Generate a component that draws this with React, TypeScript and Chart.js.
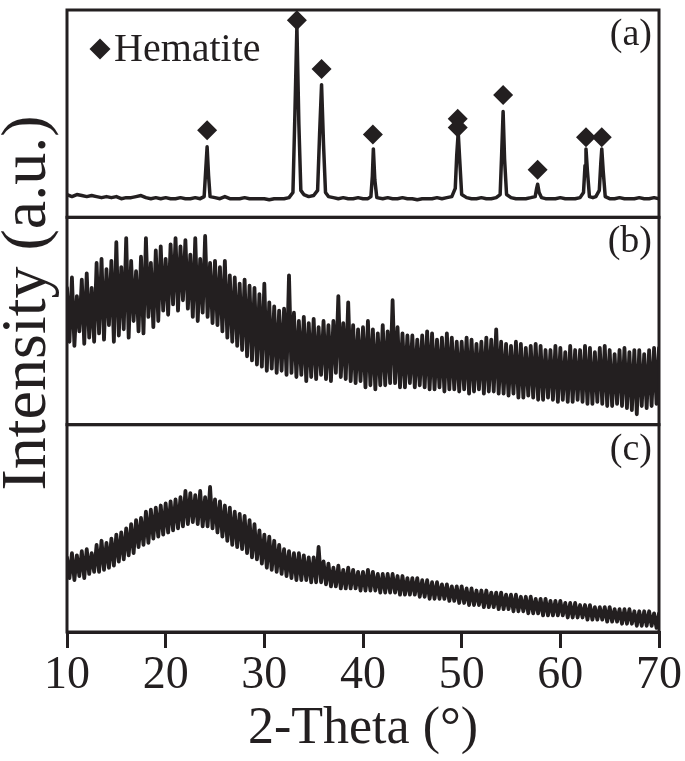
import React, { useEffect, useRef } from 'react';
import { Chart, registerables } from 'chart.js';

Chart.register(...registerables);

const X_MIN = 10;
const X_MAX = 70;
const X_TICK_STEP = 10;
const X_TITLE = '2-Theta (°)';
const Y_TITLE = 'Intensity (a.u.)';
const PANEL_LABELS = ['(a)', '(b)', '(c)'];
const LEGEND_LABEL = 'Hematite';
const INK = '#231f20';
const FONT = '"Liberation Serif", "Times New Roman", serif';

// Panel (a): [2-theta, intensity]
const patternA: [number, number][] = [
  [10, 11], [10.5, 10], [11, 11], [11.5, 10.5], [12, 10], [12.5, 10.5], [13, 10], [13.5, 9.5],
  [14, 10], [14.5, 9.5], [15, 10], [15.5, 9], [16, 9.5], [16.5, 9.5], [17, 10], [17.5, 10.5],
  [18, 9.5], [18.5, 9], [19, 9.5], [19.5, 9], [20, 9.5], [20.5, 9], [21, 9], [21.5, 9.5],
  [22, 9], [22.5, 9], [23, 9.5], [23.5, 9], [23.9, 10], [24.05, 22], [24.2, 34], [24.35, 20],
  [24.5, 10], [25, 9.5], [25.5, 9], [26, 10], [26.5, 9], [27, 9], [27.5, 9], [28, 9.5],
  [28.5, 9], [29, 9], [29.5, 9], [30, 9], [30.5, 8.5], [31, 9], [31.5, 9], [32, 9],
  [32.5, 9.5], [32.9, 12], [33.1, 50], [33.3, 92], [33.5, 45], [33.7, 13], [34, 11], [34.5, 10],
  [35, 10.5], [35.4, 13], [35.6, 40], [35.8, 64], [36.0, 35], [36.2, 12], [36.5, 10], [37, 9.5],
  [37.5, 9], [38, 9.5], [38.5, 9], [39, 9], [39.5, 9.5], [40, 9], [40.5, 9], [40.8, 10],
  [40.95, 20], [41.05, 33], [41.2, 18], [41.4, 9.5], [42, 9], [42.5, 9.5], [43, 9], [43.5, 9],
  [44, 9.5], [44.5, 9], [45, 9], [45.5, 8.5], [46, 9], [46.5, 9], [47, 9], [47.5, 9.5],
  [48, 9], [48.5, 9.5], [49, 10], [49.35, 14], [49.5, 30], [49.65, 41], [49.8, 28], [50, 11],
  [50.5, 9.5], [51, 9], [51.5, 9], [52, 9.5], [52.5, 9], [53, 9], [53.5, 9.5], [53.9, 11],
  [54.05, 30], [54.2, 51], [54.35, 28], [54.55, 11], [55, 9.5], [55.5, 9], [56, 9], [56.5, 9],
  [57, 9.5], [57.45, 10], [57.6, 14], [57.7, 16], [57.85, 12], [58.1, 9.5], [58.5, 9], [59, 9],
  [59.5, 9], [60, 9.5], [60.5, 9], [61, 9], [61.5, 9], [62, 9.5], [62.35, 12], [62.5, 25],
  [62.6, 33], [62.75, 22], [62.95, 10], [63.3, 9.5], [63.6, 10], [63.95, 13], [64.1, 26], [64.2, 33],
  [64.35, 22], [64.55, 10], [65, 9], [65.5, 9], [66, 9.5], [66.5, 9], [67, 9], [67.5, 9],
  [68, 9.5], [68.5, 9], [69, 9], [69.5, 9.5], [70, 9],
];

// Hematite peak markers in panel (a): [2-theta, marker height]
const hematiteMarkers: [number, number][] = [
  [24.2, 42], [33.3, 95], [35.8, 71.5], [41.0, 40], [49.6, 47.5], [49.6, 43.3],
  [54.2, 59], [57.7, 23], [62.6, 38.6], [64.2, 38.6],
];

// Panels (b) and (c): intensities sampled every 0.25° from 10° to 70°
const THETA_START = 10;
const THETA_STEP = 0.25;

const intensityB = [
  66, 40, 71, 38, 62, 45, 70, 39, 73, 42, 66, 40, 78, 44, 80, 41,
  75, 48, 79, 40, 88, 43, 76, 46, 90, 42, 79, 50, 74, 45, 81, 44,
  90, 52, 78, 47, 84, 50, 86, 55, 80, 53, 87, 58, 90, 55, 86, 60,
  89, 56, 82, 52, 90, 50, 80, 54, 91, 52, 78, 49, 79, 48, 76, 45,
  79, 42, 72, 40, 71, 38, 68, 36, 70, 33, 67, 31, 66, 29, 63, 28,
  68, 26, 59, 27, 57, 25, 55, 26, 56, 24, 72, 25, 54, 23, 50, 24,
  52, 21, 49, 23, 51, 22, 47, 24, 50, 22, 48, 21, 50, 25, 62, 23,
  49, 22, 59, 21, 48, 20, 46, 21, 47, 18, 50, 19, 46, 17, 44, 19,
  48, 19, 45, 20, 60, 20, 47, 18, 44, 18, 43, 20, 43, 18, 41, 19,
  43, 18, 45, 17, 44, 17, 41, 18, 42, 16, 44, 17, 42, 17, 40, 16,
  40, 17, 42, 15, 41, 16, 39, 17, 40, 15, 42, 16, 41, 16, 46, 15,
  40, 15, 39, 14, 38, 15, 40, 13, 39, 13, 37, 14, 38, 13, 39, 12,
  38, 12, 36, 13, 36, 12, 38, 11, 37, 12, 35, 11, 38, 11, 36, 12,
  36, 11, 38, 10, 37, 10, 35, 11, 37, 10, 38, 9, 36, 9, 34, 10,
  36, 9, 37, 8, 35, 7, 36, 5, 36, 9, 34, 8, 36, 9, 37, 10,
  37,
];

const intensityC = [
  36, 26, 38, 25, 37, 27, 39, 26, 40, 28, 38, 29, 42, 29, 44, 30,
  43, 31, 45, 32, 47, 34, 48, 35, 50, 37, 52, 38, 54, 41, 55, 42,
  58, 43, 59, 45, 60, 46, 61, 47, 62, 48, 63, 49, 64, 50, 65, 51,
  68, 52, 67, 53, 66, 52, 68, 51, 65, 51, 70, 50, 64, 48, 63, 46,
  61, 44, 60, 42, 58, 41, 57, 40, 56, 38, 54, 36, 52, 35, 49, 33,
  47, 31, 46, 30, 44, 29, 42, 28, 40, 27, 39, 26, 38, 25, 38, 25,
  37, 25, 36, 24, 36, 24, 41, 24, 34, 23, 33, 22, 31, 22, 32, 21,
  30, 21, 31, 21, 30, 21, 29, 20, 29, 20, 30, 20, 29, 20, 28, 19,
  28, 19, 28, 19, 28, 19, 27, 18, 27, 18, 26, 18, 26, 18, 26, 17,
  25, 17, 25, 16, 24, 16, 24, 16, 23, 16, 23, 15, 22, 15, 22, 14,
  22, 14, 21, 13, 21, 13, 20, 13, 20, 12, 20, 12, 19, 12, 19, 11,
  19, 11, 18, 11, 18, 10, 18, 10, 17, 10, 17, 9, 17, 9, 16, 9,
  16, 8, 16, 8, 15, 8, 15, 8, 15, 8, 14, 7, 14, 7, 14, 7,
  13, 7, 13, 6, 13, 6, 12, 6, 12, 6, 12, 5, 12, 5, 11, 5,
  11, 4, 11, 4, 11, 4, 10, 3, 10, 3, 10, 3, 10, 3, 9, 2,
  9,
];

const PANEL_IDS = ['yA', 'yB', 'yC'];

const toPoints = (vals: number[]) => vals.map((y, i) => ({ x: THETA_START + i * THETA_STEP, y }));

const decorPlugin = {
  id: 'decor',
  afterDatasetsDraw(chart: any) {
    const { ctx, chartArea } = chart;
    ctx.save();
    ctx.strokeStyle = INK;
    ctx.fillStyle = INK;
    ctx.lineWidth = 3;
    PANEL_IDS.forEach((id, i) => {
      const s = chart.scales[id];
      ctx.strokeRect(chartArea.left, s.top, chartArea.right - chartArea.left, s.bottom - s.top);
      ctx.font = `38px ${FONT}`;
      ctx.textAlign = 'right';
      ctx.textBaseline = 'alphabetic';
      ctx.fillText(PANEL_LABELS[i], chartArea.right - 7, s.top + 35);
    });
    // legend
    const sA = chart.scales.yA;
    const cx = chartArea.left + 33;
    const cy = sA.top + 39;
    const r = 10.5;
    ctx.beginPath();
    ctx.moveTo(cx, cy - r);
    ctx.lineTo(cx + r, cy);
    ctx.lineTo(cx, cy + r);
    ctx.lineTo(cx - r, cy);
    ctx.closePath();
    ctx.fill();
    ctx.font = `40px ${FONT}`;
    ctx.textAlign = 'left';
    ctx.fillText(LEGEND_LABEL, chartArea.left + 47, sA.top + 51);
    // y title
    ctx.translate(45, (chartArea.top + chartArea.bottom) / 2 - 18);
    ctx.rotate(-Math.PI / 2);
    ctx.font = `64px ${FONT}`;
    ctx.textAlign = 'center';
    ctx.textBaseline = 'alphabetic';
    ctx.fillText(Y_TITLE, 0, 0);
    ctx.restore();
  },
};

const hiddenY = (weight: number) => ({
  type: 'linear',
  position: 'left',
  stack: 'panels',
  stackWeight: 1,
  weight,
  min: 0,
  max: 100,
  ticks: { display: false },
  grid: { display: false },
  border: { display: false },
  afterFit: (s: any) => {
    s.width = 0;
  },
});

const lineStyle = (width: number) => ({
  borderColor: INK,
  borderWidth: width,
  borderJoinStyle: 'round',
  borderCapStyle: 'round',
  pointRadius: 0,
  tension: 0,
});

export default function App() {
  const ref = useRef<HTMLCanvasElement | null>(null);
  useEffect(() => {
    if (!ref.current) return;
    const chart = new Chart(ref.current, {
      type: 'line',
      data: {
        datasets: [
          {
            data: patternA.map(([x, y]) => ({ x, y })),
            yAxisID: 'yA',
            ...lineStyle(3.5),
          },
          {
            data: hematiteMarkers.map(([x, y]) => ({ x, y })),
            yAxisID: 'yA',
            showLine: false,
            pointStyle: 'rectRot',
            pointRadius: 10,
            backgroundColor: INK,
            borderColor: INK,
            borderWidth: 0,
            clip: false,
          },
          {
            data: toPoints(intensityB),
            yAxisID: 'yB',
            ...lineStyle(3.8),
          },
          {
            data: toPoints(intensityC),
            yAxisID: 'yC',
            ...lineStyle(3.8),
          },
        ],
      },
      options: {
        responsive: false,
        animation: false,
        devicePixelRatio: 1,
        layout: { padding: { left: 67, right: 26, top: 3, bottom: 0 } },
        plugins: { legend: { display: false }, tooltip: { enabled: false } },
        scales: {
          x: {
            type: 'linear',
            position: 'bottom',
            min: X_MIN,
            max: X_MAX,
            afterFit: (s: any) => {
              s.height = 129;
            },
            ticks: {
              stepSize: X_TICK_STEP,
              color: INK,
              font: { family: FONT, size: 46 },
              padding: 0,
              maxRotation: 0,
            },
            grid: {
              display: true,
              drawOnChartArea: false,
              drawTicks: true,
              tickLength: 16,
              tickWidth: 3,
              color: INK,
              lineWidth: 3,
            },
            border: { display: true, color: INK, width: 3 },
            title: {
              display: true,
              text: X_TITLE,
              color: INK,
              font: { family: FONT, size: 52 },
              padding: { top: 0, bottom: 0 },
            },
          },
          yA: hiddenY(3),
          yB: hiddenY(2),
          yC: hiddenY(1),
        },
      } as any,
      plugins: [decorPlugin],
    });
    return () => chart.destroy();
  }, []);
  return (
    <div style={{ position: 'absolute', left: 0, top: 0, width: 685, height: 761, background: '#fff' }}>
      <canvas ref={ref} width={685} height={761} />
    </div>
  );
}
